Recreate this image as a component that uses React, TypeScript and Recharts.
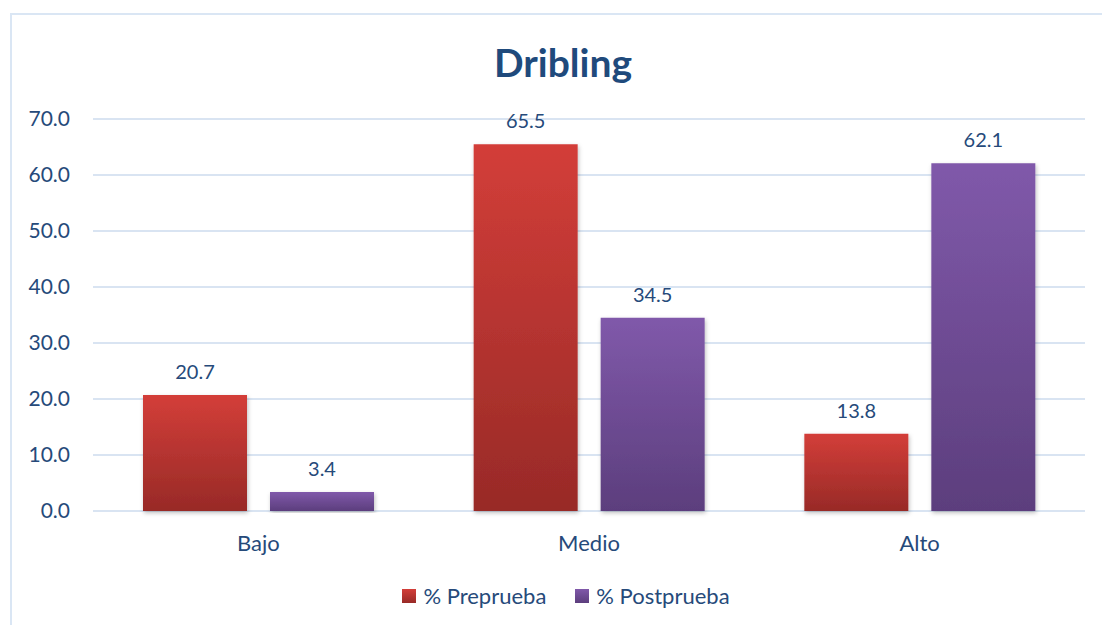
import React from 'react';
import { BarChart, Bar, XAxis, YAxis, CartesianGrid, Legend, LabelList } from 'recharts';

const categories = ['Bajo', 'Medio', 'Alto'];
const preprueba = [20.7, 65.5, 13.8];
const postprueba = [3.4, 34.5, 62.1];
const yTicks = [0, 10, 20, 30, 40, 50, 60, 70];

const data = categories.map((name, i) => ({
  name,
  pre: preprueba[i],
  post: postprueba[i],
}));

const textColor = '#264A7A';
const font = 'Lato, "Open Sans", sans-serif';

const legendItems = [
  { label: '% Preprueba', grad: 'linear-gradient(#D33E39, #982A27)' },
  { label: '% Postprueba', grad: 'linear-gradient(#8059AA, #5C3E7D)' },
];

const LegendContent = () => (
  <div style={{ display: 'flex', justifyContent: 'center', alignItems: 'center', gap: 29, fontFamily: font, fontSize: 22, color: textColor }}>
    {legendItems.map(item => (
      <div key={item.label} style={{ display: 'flex', alignItems: 'center', gap: 7 }}>
        <span style={{ display: 'inline-block', width: 14, height: 14, background: item.grad }} />
        <span>{item.label}</span>
      </div>
    ))}
  </div>
);

const App: React.FC = () => {
  return (
    <div style={{ position: 'absolute', left: 0, top: 0, width: 1102, height: 625, background: '#fff', overflow: 'hidden' }}>
      <div
        style={{
          position: 'absolute',
          left: 10,
          top: 13,
          width: 1120,
          height: 640,
          border: '2px solid #DAE6F4',
          boxSizing: 'border-box',
        }}
      />
      <BarChart
        width={1102}
        height={625}
        data={data}
        margin={{ top: 119, right: 17, bottom: 74, left: 33 }}
        barCategoryGap={50}
        barGap={23}
        style={{ fontFamily: font }}
      >
        <defs>
          <linearGradient id="gradPre" x1="0" y1="0" x2="0" y2="1">
            <stop offset="0%" stopColor="#D33E39" />
            <stop offset="100%" stopColor="#982A27" />
          </linearGradient>
          <linearGradient id="gradPost" x1="0" y1="0" x2="0" y2="1">
            <stop offset="0%" stopColor="#8059AA" />
            <stop offset="100%" stopColor="#5C3E7D" />
          </linearGradient>
          <filter id="shadow" x="-10%" y="-10%" width="120%" height="120%">
            <feDropShadow dx="1" dy="2" stdDeviation="2" floodColor="#000" floodOpacity="0.25" />
          </filter>
        </defs>
        <text x={563} y={62} textAnchor="middle" dominantBaseline="central" fontSize={39} fontWeight="bold" fill="#1F4A7C" fontFamily={font}>
          Dribling
        </text>
        <CartesianGrid vertical={false} stroke="#D9E4F2" strokeWidth={2} />
        <XAxis
          dataKey="name"
          height={40}
          axisLine={false}
          tickLine={false}
          tickSize={0}
          tickMargin={24}
          tick={{ fill: textColor, fontSize: 22, fontFamily: font }}
        />
        <YAxis
          width={60}
          domain={[0, 70]}
          ticks={yTicks}
          axisLine={false}
          tickLine={false}
          tickSize={0}
          tickMargin={23}
          tickFormatter={(v: number) => v.toFixed(1)}
          tick={{ fill: textColor, fontSize: 21, fontFamily: font }}
        />
        <Legend
          verticalAlign="middle"
          align="center"
          layout="horizontal"
          content={<LegendContent />}
          wrapperStyle={{ top: 582, left: 0, width: 1132 }}
        />
        <Bar dataKey="pre" name="% Preprueba" fill="url(#gradPre)" filter="url(#shadow)" isAnimationActive={false}>
          <LabelList dataKey="pre" position="top" offset={16} fill={textColor} fontSize={20} fontFamily={font} formatter={(v: number) => v.toFixed(1)} />
        </Bar>
        <Bar dataKey="post" name="% Postprueba" fill="url(#gradPost)" filter="url(#shadow)" isAnimationActive={false}>
          <LabelList dataKey="post" position="top" offset={16} fill={textColor} fontSize={20} fontFamily={font} formatter={(v: number) => v.toFixed(1)} />
        </Bar>
      </BarChart>
    </div>
  );
};

export default App;
